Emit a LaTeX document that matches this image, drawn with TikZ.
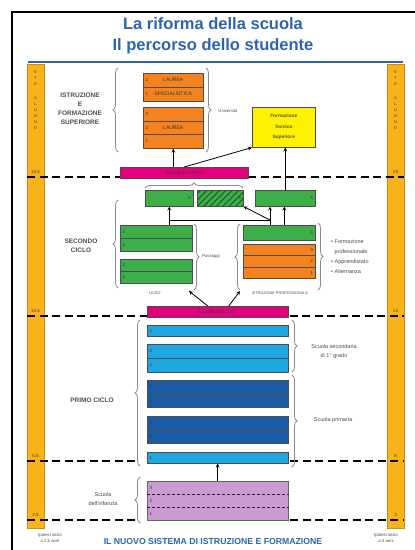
\documentclass[tikz,border=0pt]{standalone}
\usepackage{fontspec}
\setmainfont{Liberation Sans}
\usepackage{xcolor}
\usepackage{tikz}
\usetikzlibrary{arrows, positioning, calc, decorations.pathreplacing, patterns.meta}
\definecolor{titleblue}{HTML}{2B65AE}
\definecolor{barorange}{HTML}{F8B31B}
\definecolor{barborder}{HTML}{C98E12}
\definecolor{uniorange}{HTML}{F4831F}
\definecolor{boxgreen}{HTML}{3EAE48}
\definecolor{hatchgreen}{HTML}{1F5F2A}
\definecolor{ftsyellow}{HTML}{FFF200}
\definecolor{exampink}{HTML}{E4007C}
\definecolor{lightblue}{HTML}{1EA7E1}
\definecolor{darkblue}{HTML}{1A5BA6}
\definecolor{lilac}{HTML}{C99BD1}
\definecolor{bracegray}{HTML}{8A8A8A}
\definecolor{labelgray}{HTML}{4A4A4A}
\tikzstyle{title} = [anchor=base, inner sep=0pt, text=titleblue, font=\bfseries\fontsize{16.5}{18}\selectfont]
\tikzstyle{bar} = [rectangle, draw=barborder, fill=barorange, line width=0.6pt, inner sep=0pt]
\tikzstyle{barletter} = [inner sep=0pt, text=black!75, font=\fontsize{4}{4}\selectfont]
\tikzstyle{age} = [inner sep=0pt, text=black!75, font=\fontsize{4.5}{5}\selectfont]
\tikzstyle{row} = [rectangle, anchor=north west, draw=black!70, line width=0.5pt, inner sep=0pt, text=black!80, font=\fontsize{5}{6}\selectfont]
\tikzstyle{lnum} = [anchor=west, inner sep=2.5pt, text=black!80, font=\fontsize{4.5}{5}\selectfont]
\tikzstyle{rnum} = [anchor=east, inner sep=2.5pt, text=black!80, font=\fontsize{4.5}{5}\selectfont]
\tikzstyle{exam} = [row, fill=exampink, font=\fontsize{4.5}{5}\selectfont]
\tikzstyle{cycle} = [align=center, inner sep=0pt, text=black!70, font=\bfseries\fontsize{6.5}{9}\selectfont]
\tikzstyle{note} = [align=center, inner sep=0pt, text=labelgray, font=\fontsize{5.5}{9}\selectfont]
\tikzstyle{tiny} = [inner sep=0pt, text=labelgray, font=\fontsize{4.3}{5}\selectfont]
\tikzstyle{brace} = [decorate, decoration={brace, amplitude=5pt}, draw=bracegray, line width=0.8pt]
\tikzstyle{dashline} = [line width=2.4pt, dash pattern=on 8pt off 4.5pt]
\tikzstyle{arrow} = [thick,->,>=stealth]
\tikzstyle{line} = [thick,-]

\begin{document}
\begin{tikzpicture}[x=1pt, y=-1pt]
        \useasboundingbox (0,0) rectangle (415,550);

        % Frame and title
        \draw[line width=1.3pt] (12,550) -- (12,12) -- (415,12);
        \node (title1) [title] at (213,29) {La riforma della scuola};
        \node (title2) [title] at (213,50) {Il percorso dello studente};
        \draw[titleblue, line width=2pt] (28,62) -- (403,62);

        % Age bars
        \node (lbar) [bar, minimum width=17pt, minimum height=464pt] at (35.5,296) {};
        \node (rbar) [bar, minimum width=17pt, minimum height=464pt] at (395.5,296) {};
        \foreach \ch/\yy [count=\i] in {E/72,T/78,A'/84,A/98,L/104,U/110,N/116,N/122,O/128} {
            \node (etaL\i) [barletter] at (35.5,\yy) {\ch};
            \node (etaR\i) [barletter] at (395.5,\yy) {\ch};
        }
        \foreach \la/\ra/\yy [count=\i] in {16{,}5/19/177, 13{,}5/14/316, 5{,}5/6/461, 2{,}5/3/520} {
            \node (ageL\i) [age] at (35.5,\yy-5) {\la};
            \node (ageR\i) [age] at (395.5,\yy-5) {\ra};
        }

        % Age lines
        \draw[dashline] (27,177) -- (120,177);
        \draw[dashline] (248,177) -- (404,177);
        \draw[dashline] (27,316) -- (404,316);
        \draw[dashline] (27,461) -- (137,461);
        \draw[dashline] (290,461) -- (404,461);
        \draw[dashline] (27,520) -- (137,520);
        \draw[dashline] (290,520) -- (404,520);

        % Istruzione e formazione superiore
        \node (sup) [cycle] at (80,109) {ISTRUZIONE\\E\\FORMAZIONE\\SUPERIORE};
        \node (ls2) [row, fill=uniorange, minimum width=60pt, minimum height=14pt, label={[lnum]west:2}] at (143,73) {LAUREA};
        \node (ls1) [row, fill=uniorange, minimum width=60pt, minimum height=14pt, label={[lnum]west:1}] at (143,87) {SPECIALISTICA};
        \node (la3) [row, fill=uniorange, minimum width=60pt, minimum height=13.67pt, label={[lnum]west:3}] at (143,107) {};
        \node (la2) [row, fill=uniorange, minimum width=60pt, minimum height=13.67pt, label={[lnum]west:2}] at (143,120.67) {LAUREA};
        \node (la1) [row, fill=uniorange, minimum width=60pt, minimum height=13.67pt, label={[lnum]west:1}] at (143,134.33) {};
        \node (uni) [tiny] at (228,111) {Università};
        \node (fts) [row, fill=ftsyellow, minimum width=63pt, minimum height=40pt, align=center, text=black!75!yellow,
            font=\bfseries\fontsize{4.8}{10.5}\selectfont] at (252,107) {Formazione\\Tecnico\\Superiore};
        \node (ex1) [exam, minimum width=128pt, minimum height=11pt] at (120,167) {ESAME DI STATO};

        % Secondo ciclo
        \node (sec) [cycle] at (81,246) {SECONDO\\CICLO};
        \node (g5a) [row, fill=boxgreen, minimum width=48pt, minimum height=16pt, label={[rnum]east:5}] at (145,190) {};
        \node (g5h) [row, fill=boxgreen, minimum width=46pt, minimum height=16pt, label={[rnum]east:5},
            postaction={pattern={Lines[angle=45,distance=4.5pt,line width=1.1pt]}, pattern color=hatchgreen}] at (197,190) {};
        \node (g5b) [row, fill=boxgreen, minimum width=60pt, minimum height=16pt, label={[rnum]east:5}] at (255,190) {};
        \node (lc2a) [row, fill=boxgreen, minimum width=72pt, minimum height=13pt, label={[lnum]west:2}] at (120,225) {};
        \node (lc1a) [row, fill=boxgreen, minimum width=72pt, minimum height=13pt, label={[lnum]west:1}] at (120,238) {};
        \node (lc2b) [row, fill=boxgreen, minimum width=72pt, minimum height=12pt, label={[lnum]west:2}] at (120,259) {};
        \node (lc1b) [row, fill=boxgreen, minimum width=72pt, minimum height=12pt, label={[lnum]west:1}] at (120,271) {};
        \node (ip4) [row, fill=boxgreen, minimum width=72pt, minimum height=15pt, label={[rnum]east:4}] at (243,225) {};
        \node (ip3) [row, fill=uniorange, minimum width=72pt, minimum height=11.33pt, label={[rnum]east:3}] at (243,244) {};
        \node (ip2) [row, fill=uniorange, minimum width=72pt, minimum height=11.33pt, label={[rnum]east:2}] at (243,255.33) {};
        \node (ip1) [row, fill=uniorange, minimum width=72pt, minimum height=11.33pt, label={[rnum]east:1}] at (243,266.67) {};
        \node (liceo) [tiny, font=\fontsize{3.8}{4}\selectfont] at (155,293) {LICEO};
        \node (ipro) [tiny, font=\fontsize{3.8}{4}\selectfont] at (280,293) {ISTRUZIONE PROFESSIONALE};
        \node (pass) [tiny] at (211,256) {Passaggi};
        \node (vie) [note, align=left, anchor=west, font=\fontsize{5.5}{10}\selectfont] at (331,257)
            {• Formazione\\\hphantom{• }professionale\\• Apprendistato\\• Alternanza};
        \node (ex2) [exam, minimum width=141pt, minimum height=11pt] at (147,306) {ESAME DI STATO};

        % Primo ciclo
        \node (primo) [cycle] at (92,400) {PRIMO CICLO};
        \node (bl1) [row, fill=lightblue, minimum width=141pt, minimum height=11pt, label={[lnum]west:1}] at (147,325) {};
        \node (bl2) [row, fill=lightblue, minimum width=141pt, minimum height=14pt, label={[lnum]west:2}] at (147,344) {};
        \node (bl3) [row, fill=lightblue, minimum width=141pt, minimum height=14pt, label={[lnum]west:1}] at (147,358) {};
        \node (db2a) [row, fill=darkblue, minimum width=141pt, minimum height=13.5pt, label={[lnum]west:2}] at (147,380) {};
        \node (db1a) [row, fill=darkblue, minimum width=141pt, minimum height=13.5pt, label={[lnum]west:1}] at (147,393.5) {};
        \node (db2b) [row, fill=darkblue, minimum width=141pt, minimum height=13.5pt, label={[lnum]west:2}] at (147,416) {};
        \node (db1b) [row, fill=darkblue, minimum width=141pt, minimum height=13.5pt, label={[lnum]west:1}] at (147,429.5) {};
        \node (bl4) [row, fill=lightblue, minimum width=141pt, minimum height=11pt, label={[lnum]west:1}] at (147,452) {};
        \node (sec1) [note] at (334,352) {Scuola secondaria\\di 1° grado};
        \node (prim) [note] at (333,420) {Scuola primaria};

        % Scuola dell'infanzia
        \node (inf) [note] at (103,499) {Scuola\\dell'infanzia};
        \node (pu) [row, fill=lilac, draw=black!60, minimum width=141pt, minimum height=39pt] at (147,481) {};
        \node (pu3) [row, draw=none, minimum width=141pt, minimum height=13pt, label={[lnum]west:3}] at (147,481) {};
        \node (pu2) [row, draw=none, minimum width=141pt, minimum height=13pt, label={[lnum]west:2}] at (147,494) {};
        \node (pu1) [row, draw=none, minimum width=141pt, minimum height=13pt, label={[lnum]west:1}] at (147,507) {};
        \draw[violet!60!black, densely dashed, line width=0.5pt] (pu3.south west) -- (pu3.south east);
        \draw[violet!60!black, densely dashed, line width=0.5pt] (pu2.south west) -- (pu2.south east);

        % Bottom texts
        \node (ipoL) [tiny, align=center, font=\fontsize{4.3}{6.5}\selectfont] at (50,538) {Ipotesi inizio\\a 2,5 anni};
        \node (ipoR) [tiny, align=center, font=\fontsize{4.3}{6.5}\selectfont] at (386,538) {Ipotesi inizio\\a 3 anni};
        \node (sys) [inner sep=0pt, text=titleblue, font=\bfseries\fontsize{8.7}{10}\selectfont] at (213,541) {IL NUOVO SISTEMA DI ISTRUZIONE E FORMAZIONE};

        % Braces
        \draw[brace] (118,152) -- (118,68);
        \draw[brace] (206,68) -- (206,152);
        \draw[brace] (145,188) -- (243,188);
        \draw[brace] (118,288) -- (118,200);
        \draw[brace] (194,224) -- (194,290);
        \draw[brace] (240,290) -- (240,224);
        \draw[brace] (318,223) -- (318,290);
        \draw[brace] (140,466) -- (140,320);
        \draw[brace] (292,320) -- (292,372);
        \draw[brace] (292,375) -- (292,467);
        \draw[brace] (140,523) -- (140,477);

        % Arrows
        \coordinate (join) at (270,220);
        \coordinate (toLiceo) at (189,291);
        \coordinate (toIP) at (240,291);
        \draw [arrow] (ex1.north -| la1.south) -- (la1.south);
        \draw [arrow] (ex1.north) -- (fts.south west);
        \draw [arrow] (g5b.north) -- (g5b.north |- fts.south);
        \draw [arrow] (g5a.south |- lc2a.north) -- (g5a.south);
        \path [line] (join) edge (join -| g5a.south);
        \draw [arrow] (join) -- (g5h.south east);
        \draw [arrow] (ip4.north -| join) -- (g5b.south -| join);
        \draw [arrow] ($(ip4.north)+(5,0)$) -- ($(g5b.south -| ip4.north)+(5,0)$);
        \draw [arrow] ($(ex2.north)+(-10,0)$) -- (toLiceo);
        \draw [arrow] ($(ex2.north)+(11,0)$) -- (toIP);
        \draw [arrow] (pu.north) -- (bl4.south);

    \end{tikzpicture}
\end{document}
